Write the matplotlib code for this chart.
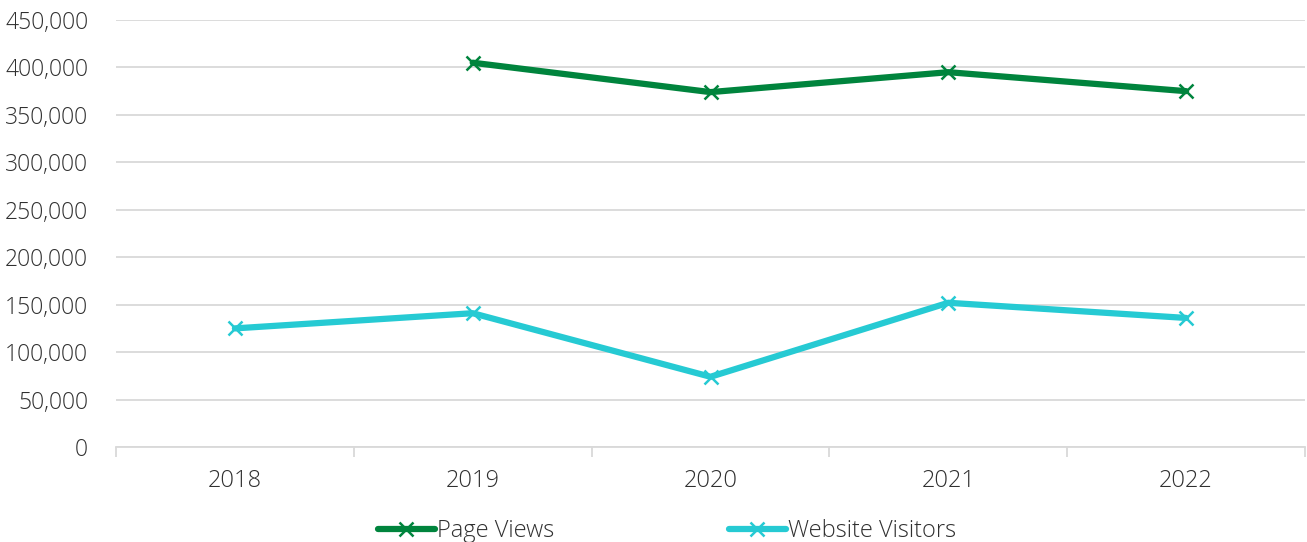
import matplotlib
matplotlib.use("Agg")
import matplotlib.pyplot as plt
from matplotlib.ticker import FuncFormatter, FixedLocator

years = ["2018", "2019", "2020", "2021", "2022"]
page_views = [None, 405000, 374000, 395000, 375000]
website_visitors = [125000, 141000, 74000, 152000, 136000]
y_ticks = list(range(0, 450001, 50000))

GREEN = "#00843D"
CYAN = "#26CAD3"
TEXT = "#303030"
GRID = "#d9d9d9"

plt.rcParams["font.family"] = ["Open Sans", "DejaVu Sans"]
plt.rcParams["font.weight"] = "light"

fig = plt.figure(figsize=(13.07, 5.42), dpi=100)
ax = fig.add_axes([116 / 1307, 1 - 447 / 542, (1305 - 116) / 1307, (447 - 20) / 542])

x = list(range(len(years)))
pv_x = [i for i, v in zip(x, page_views) if v is not None]
pv_y = [v for v in page_views if v is not None]

ax.plot(pv_x, pv_y, color=GREEN, lw=4.5, marker="x", ms=10, mew=1.8,
        label="Page Views", solid_capstyle="round", zorder=3)
ax.plot(x, website_visitors, color=CYAN, lw=4.5, marker="x", ms=10, mew=1.8,
        label="Website Visitors", solid_capstyle="round", zorder=3)

ax.set_xlim(-0.5, len(years) - 0.5)
ax.set_ylim(0, 450000)
ax.set_yticks(y_ticks)
ax.yaxis.set_major_formatter(FuncFormatter(lambda v, p: f"{int(v):,}"))
ax.grid(axis="y", color=GRID, lw=1.3)
ax.set_axisbelow(True)

ax.set_xticks(x)
ax.set_xticklabels(years)
ax.xaxis.set_minor_locator(FixedLocator([i - 0.5 for i in range(len(years) + 1)]))
ax.tick_params(axis="x", which="major", length=0, pad=16, labelsize=17, labelcolor=TEXT)
ax.tick_params(axis="x", which="minor", length=7, width=1.3, color=GRID)
ax.tick_params(axis="y", length=0, pad=20, labelsize=16.5, labelcolor=TEXT)

for s in ["top", "right", "left"]:
    ax.spines[s].set_visible(False)
ax.spines["bottom"].set_color(GRID)
ax.spines["bottom"].set_linewidth(1.3)

fig.legend(loc="center", bbox_to_anchor=(667 / 1307, 1 - 531 / 542), ncol=2,
           frameon=False, fontsize=17, labelcolor=TEXT, handlelength=2.4,
           handletextpad=0.1, columnspacing=7.4, borderpad=0)

fig.savefig("out.png", dpi=100)
